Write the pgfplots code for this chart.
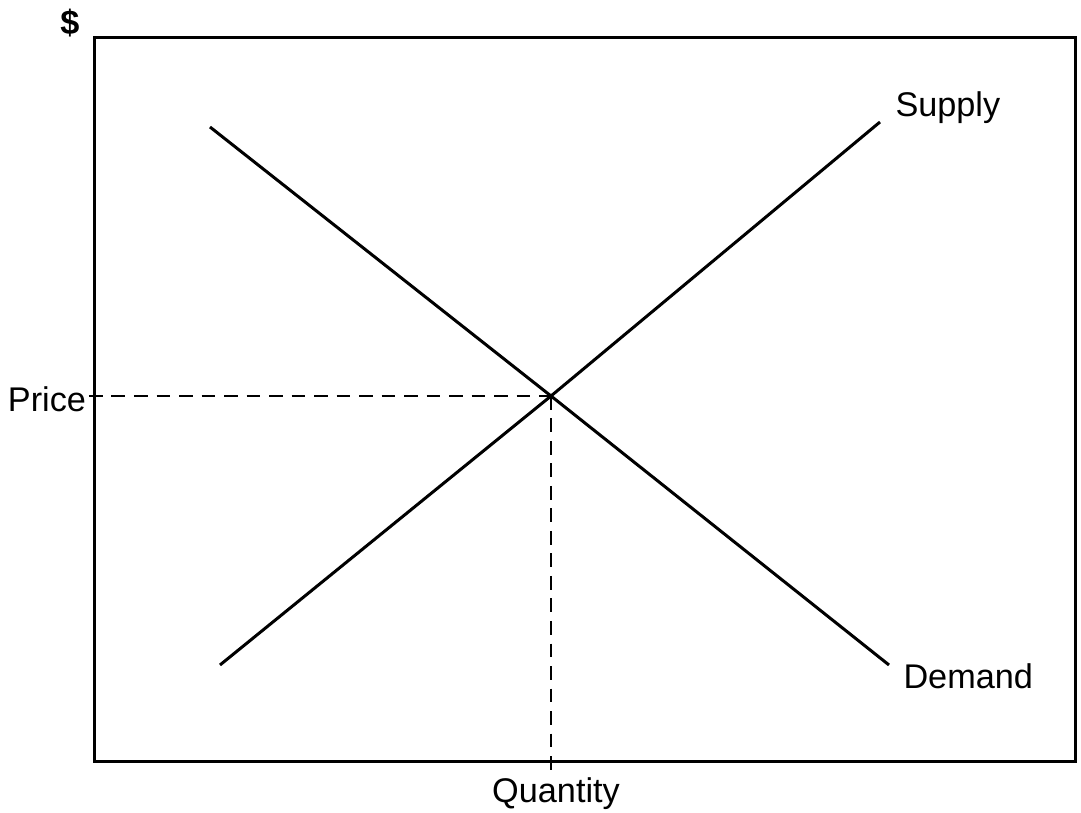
\documentclass[border=0pt]{standalone}
\usepackage{fontspec}
\setmainfont{Liberation Sans}
\usepackage{pgfplots}
\pgfplotsset{compat=1.18}

\newcommand{\lblfont}{\fontsize{13.7}{16}\selectfont}

\begin{document}
\begin{tikzpicture}
  % 1 unit = 1 pixel of the reference (0.4pt); origin at the lower left corner of the box
  \begin{axis}[
      x=0.4pt, y=0.4pt,
      xmin=0, xmax=980, ymin=0, ymax=724,
      axis lines=box,
      axis line style={line width=1.2pt},
      xtick=\empty, ytick=\empty,
      clip=false,
    ]
    % invisible frame giving the page the reference's size
    \path (axis cs:-95,-51) rectangle (axis cs:986,762);

    % Demand
    \addplot[black, line width=1.2pt] coordinates {(115,635) (456,366) (794,97)};
    % Supply
    \addplot[black, line width=1.2pt] coordinates {(125,97) (456,366) (785,640)};

    % equilibrium guides
    \addplot[black, line width=1pt, dash pattern=on 5.5pt off 3.5pt] coordinates {(-6,366) (456,366)};
    \addplot[black, line width=0.8pt, dash pattern=on 5.5pt off 3.5pt] coordinates {(456,366) (456,-8)};

    \node[anchor=east, inner sep=1pt, font=\lblfont] at (axis cs:-6,363) {Price};
    \node[anchor=north, inner sep=0pt, font=\lblfont] at (axis cs:461,-15) {Quantity};
    \node[anchor=base west, inner sep=0pt, font=\lblfont] at (axis cs:800,645) {Supply};
    \node[anchor=base west, inner sep=0pt, font=\lblfont] at (axis cs:808,73) {Demand};
    \node[inner sep=0pt, font=\lblfont\bfseries] at (axis cs:-25,739) {\$};
  \end{axis}
\end{tikzpicture}
\end{document}
